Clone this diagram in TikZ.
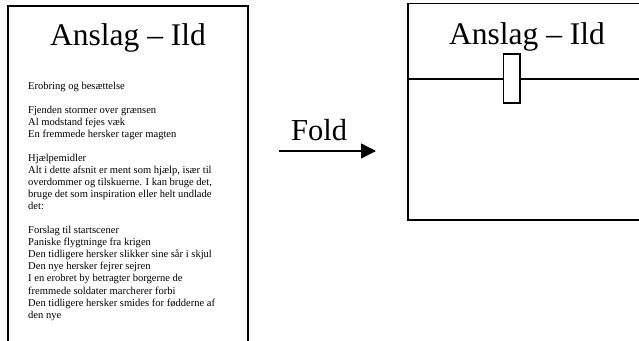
\documentclass[tikz,border=0pt]{standalone}
\usepackage{fontspec}
\setmainfont{Liberation Serif}
\usetikzlibrary{arrows.meta}
\begin{document}
\begin{tikzpicture}[x=1pt,y=-1pt,
  title/.style={font=\fontsize{31.5}{36}\selectfont, anchor=base, inner sep=0pt},
  foldlabel/.style={font=\fontsize{30.5}{34}\selectfont, anchor=base west, inner sep=0pt},
  bodyline/.style={font=\fontsize{10.55}{12}\selectfont, anchor=base west, inner sep=0pt},
  frame/.style={draw=black, line width=1.4pt},
  clasp/.style={draw=black, fill=white, line width=1.2pt, minimum width=16.7pt, minimum height=49pt, inner sep=0pt},
  foldarrow/.style={line width=1.3pt, -{Triangle[length=15pt,width=15pt]}}]
\useasboundingbox (0,0) rectangle (639,340);
\clip (0,0) rectangle (639,340);

% unfolded sheet, running off the bottom edge
\draw[line width=1.6pt] (8,6) -- (248,6);
\draw[line width=2.5pt] (8,5.2) -- (8,360);
\draw[line width=2.8pt] (248,5.2) -- (248,360);

\node[title] (lefttitle) at (128,45) {Anslag – Ild};

\foreach \i/\t in {
  0/{Erobring og besættelse},
  2/{Fjenden stormer over grænsen},
  3/{Al modstand fejes væk},
  4/{En fremmede hersker tager magten},
  6/{Hjælpemidler},
  7/{Alt i dette afsnit er ment som hjælp, især til},
  8/{overdommer og tilskuerne. I kan bruge det,},
  9/{bruge det som inspiration eller helt undlade},
  10/{det:},
  12/{Forslag til startscener},
  13/{Paniske flygtninge fra krigen},
  14/{Den tidligere hersker slikker sine sår i skjul},
  15/{Den nye hersker fejrer sejren},
  16/{I en erobret by betragter borgerne de},
  17/{fremmede soldater marcherer forbi},
  18/{Den tidligere hersker smides for fødderne af},
  19/{den nye}}
  \node[bodyline] (line\i) at (28,{89+12.06*\i}) {\t};

% fold arrow
\node[foldlabel] (fold) at (291,140.5) {Fold};
\coordinate (arrowstart) at (279,151);
\coordinate (arrowend) at (376,151);
\draw[foldarrow] (arrowstart) -- (arrowend);

% folded sheet with its flap and clasp
\draw[frame] (408,3.5) rectangle (660,220);
\draw[frame] (408,79) -- (660,79);
\node[title] (righttitle) at (527,44.5) {Anslag – Ild};
\node[clasp] (clasp) at (511.7,78.5) {};
\end{tikzpicture}
\end{document}
